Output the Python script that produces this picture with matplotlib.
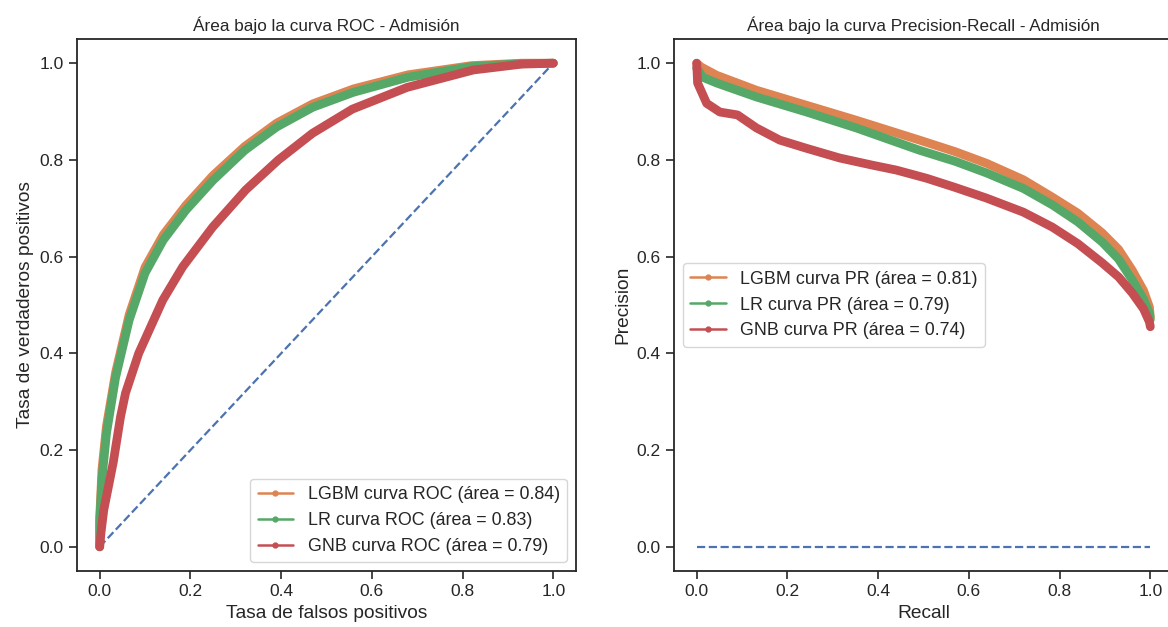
import matplotlib
matplotlib.use("Agg")
import matplotlib.pyplot as plt
from matplotlib.lines import Line2D
import seaborn as sns

sns.set_theme(style="ticks", palette="deep")
plt.rcParams['font.family'] = ['Liberation Sans', 'DejaVu Sans']

# ---------------- data ----------------
models = ["LGBM", "LR", "GNB"]
roc_auc = [0.84, 0.83, 0.79]
pr_auc = [0.81, 0.79, 0.74]

lgbm_fpr = [0, 0, 0.005, 0.015, 0.035, 0.065, 0.10, 0.14, 0.19, 0.25, 0.32, 0.39, 0.47, 0.56, 0.68, 0.82, 0.93, 1.0]
lgbm_tpr = [0, 0.06, 0.16, 0.25, 0.36, 0.48, 0.578, 0.645, 0.706, 0.768, 0.828, 0.876, 0.916, 0.947, 0.976, 0.995, 1.0, 1.0]
lr_fpr = [0, 0, 0.005, 0.015, 0.035, 0.065, 0.10, 0.14, 0.19, 0.25, 0.32, 0.39, 0.47, 0.56, 0.68, 0.82, 0.93, 1.0]
lr_tpr = [0, 0.05, 0.14, 0.235, 0.35, 0.469, 0.566, 0.634, 0.696, 0.758, 0.820, 0.868, 0.909, 0.940, 0.971, 0.993, 0.999, 1.0]
gnb_fpr = [0, 0.003, 0.009, 0.03, 0.046, 0.057, 0.086, 0.139, 0.183, 0.249, 0.322, 0.394, 0.469, 0.557, 0.678, 0.824, 0.93, 1.0]
gnb_tpr = [0, 0.03, 0.076, 0.175, 0.269, 0.318, 0.40, 0.51, 0.579, 0.661, 0.738, 0.800, 0.855, 0.905, 0.950, 0.986, 0.998, 1.0]

lgbm_rec = [0, 0.01, 0.044, 0.132, 0.242, 0.352, 0.491, 0.57, 0.639, 0.72, 0.784, 0.84, 0.894, 0.93, 0.960, 0.985, 0.998, 1.0]
lgbm_prec = [1.0, 0.992, 0.975, 0.944, 0.913, 0.882, 0.841, 0.817, 0.793, 0.759, 0.723, 0.690, 0.649, 0.615, 0.572, 0.530, 0.496, 0.475]
lr_rec = [0, 0.013, 0.044, 0.132, 0.242, 0.352, 0.491, 0.57, 0.639, 0.72, 0.784, 0.84, 0.894, 0.93, 0.960, 0.985, 0.998, 1.0]
lr_prec = [0.99, 0.971, 0.959, 0.930, 0.899, 0.866, 0.820, 0.797, 0.773, 0.741, 0.707, 0.672, 0.630, 0.595, 0.552, 0.512, 0.483, 0.47]
gnb_rec = [0, 0.002, 0.022, 0.051, 0.090, 0.132, 0.183, 0.242, 0.315, 0.388, 0.44, 0.507, 0.57, 0.639, 0.72, 0.784, 0.84, 0.894, 0.93, 0.960, 0.985, 0.998, 1.0]
gnb_prec = [1.0, 0.959, 0.917, 0.899, 0.893, 0.866, 0.841, 0.824, 0.804, 0.789, 0.779, 0.762, 0.743, 0.721, 0.692, 0.661, 0.627, 0.587, 0.558, 0.525, 0.492, 0.465, 0.455]

roc_x = [lgbm_fpr, lr_fpr, gnb_fpr]
roc_y = [lgbm_tpr, lr_tpr, gnb_tpr]
pr_x = [lgbm_rec, lr_rec, gnb_rec]
pr_y = [lgbm_prec, lr_prec, gnb_prec]

diag_x = [0, 1]
diag_y = [0, 1]
noskill_x = [0, 1]
noskill_y = [0, 0]

# ---------------- plot ----------------
pal = sns.color_palette("deep")
colors = [pal[1], pal[2], pal[3]]
blue = pal[0]

fig = plt.figure(figsize=(11.68, 6.27), dpi=100)
ax1 = fig.add_axes([77/1168, 1-571/627, 499/1168, 532/627])
ax2 = fig.add_axes([674/1168, 1-571/627, 499/1168, 532/627])

FS_TITLE = 12.3
FS_LEG = 12.9
FS_TICK = 12.5
FS_LAB = 13.8
BAND = 6.3

ax1.plot(diag_x, diag_y, linestyle='--', color=blue, lw=1.6)
handles1 = []
for m, xs, ys, c, a in zip(models, roc_x, roc_y, colors, roc_auc):
    ax1.plot(xs, ys, color=c, lw=BAND, solid_capstyle='round', solid_joinstyle='round')
    handles1.append(Line2D([], [], color=c, lw=1.8, marker='.', markersize=7,
                           label=f"{m} curva ROC (área = {a:.2f})"))
ax1.set_title("Área bajo la curva ROC - Admisión", fontsize=FS_TITLE)
ax1.set_xlabel("Tasa de falsos positivos", fontsize=FS_LAB)
ax1.set_ylabel("Tasa de verdaderos positivos", fontsize=FS_LAB)
ax1.legend(handles=handles1, loc='lower right', fontsize=FS_LEG)

ax2.plot(noskill_x, noskill_y, linestyle='--', color=blue, lw=1.6)
handles2 = []
for m, xs, ys, c, a in zip(models, pr_x, pr_y, colors, pr_auc):
    ax2.plot(xs, ys, color=c, lw=BAND, solid_capstyle='round', solid_joinstyle='round')
    handles2.append(Line2D([], [], color=c, lw=1.8, marker='.', markersize=7,
                           label=f"{m} curva PR (área = {a:.2f})"))
ax2.set_title("Área bajo la curva Precision-Recall - Admisión", fontsize=FS_TITLE)
ax2.set_xlabel("Recall", fontsize=FS_LAB)
ax2.set_ylabel("Precision", fontsize=FS_LAB)
ax2.legend(handles=handles2, loc='center left', fontsize=FS_LEG)

for ax in (ax1, ax2):
    ax.set_xlim(-0.05, 1.05)
    ax.set_ylim(-0.05, 1.05)
    ax.set_xticks([0, 0.2, 0.4, 0.6, 0.8, 1.0])
    ax.set_yticks([0, 0.2, 0.4, 0.6, 0.8, 1.0])
    ax.tick_params(labelsize=FS_TICK, length=6, width=1.2)
    for s in ax.spines.values():
        s.set_linewidth(1.3)
        s.set_color('0.15')

fig.savefig("out.png", dpi=100)
